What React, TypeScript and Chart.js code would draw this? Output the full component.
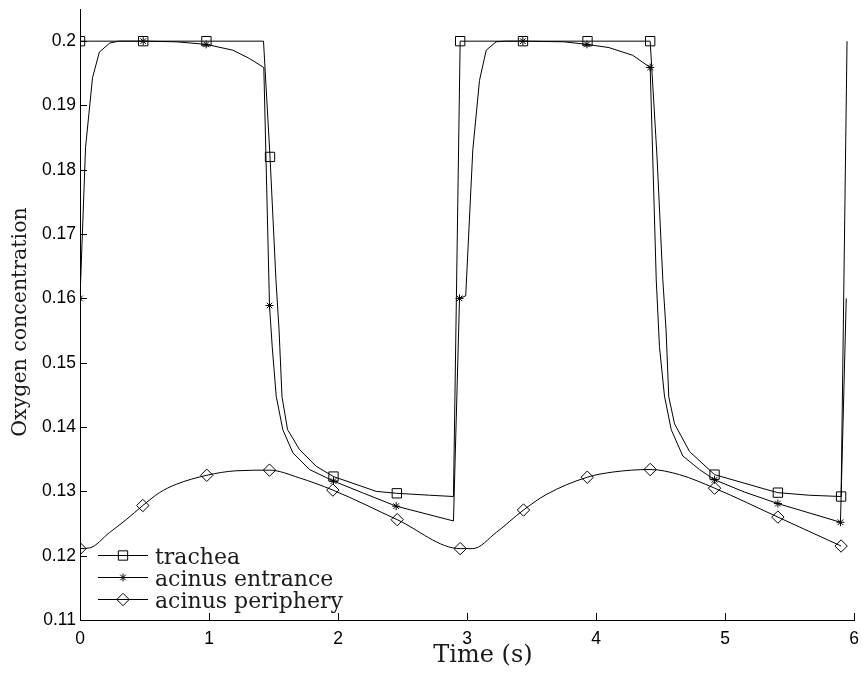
import React, { useEffect, useRef } from "react";
import { Chart, registerables } from "chart.js";
import { drawPoint } from "chart.js/helpers";

Chart.register(...registerables);

// ---------- data ----------
const xTicks = [0, 1, 2, 3, 4, 5, 6];
const yTicks = [0.11, 0.12, 0.13, 0.14, 0.15, 0.16, 0.17, 0.18, 0.19, 0.2];
const xLabel = "Time (s)";
const yLabel = "Oxygen concentration";
const seriesLabels = ["trachea", "acinus entrance", "acinus periphery"];

const tracheaT = [0, 0.49, 0.98, 1.4225, 1.473, 1.519, 1.543, 1.566, 1.609, 1.702, 1.831, 1.965, 2.296, 2.456, 2.71, 2.895, 2.947, 3.434, 3.934, 4.42, 4.473, 4.518, 4.543, 4.564, 4.609, 4.725, 4.919, 5.319, 5.41, 5.65, 5.9, 5.946];
const tracheaY = [0.2, 0.2, 0.2, 0.2, 0.182, 0.1629, 0.1551, 0.1447, 0.1396, 0.1365, 0.1339, 0.1323, 0.13, 0.1297, 0.1294, 0.1292, 0.2, 0.2, 0.2, 0.2, 0.182, 0.1629, 0.1551, 0.1447, 0.1405, 0.1362, 0.1326, 0.1303, 0.1298, 0.1294, 0.1292, 0.2];
const tracheaMark = [1, 1, 1, 0, 1, 0, 0, 0, 0, 0, 0, 1, 0, 1, 0, 0, 1, 1, 1, 1, 0, 0, 0, 0, 0, 0, 1, 0, 1, 0, 1, 0];

const entranceT = [0, 0.043, 0.097, 0.15, 0.23, 0.3, 0.49, 0.746, 0.978, 1.184, 1.314, 1.425, 1.469, 1.49, 1.521, 1.572, 1.65, 1.779, 1.965, 2.2, 2.451, 2.895, 2.942, 2.99, 3.045, 3.097, 3.149, 3.226, 3.3, 3.433, 3.75, 3.93, 4.1, 4.285, 4.42, 4.467, 4.492, 4.531, 4.583, 4.673, 4.802, 4.919, 5.15, 5.41, 5.895, 5.94];
const entranceY = [0.16, 0.1835, 0.1943, 0.1983, 0.1997, 0.2, 0.2, 0.1999, 0.1995, 0.1986, 0.1973, 0.1959, 0.1589, 0.1525, 0.1448, 0.1396, 0.136, 0.1334, 0.1316, 0.1297, 0.1277, 0.1254, 0.16, 0.1604, 0.1831, 0.1939, 0.1986, 0.1999, 0.2, 0.2, 0.1999, 0.1995, 0.199, 0.1978, 0.1959, 0.1629, 0.1525, 0.1448, 0.1396, 0.1355, 0.1334, 0.1318, 0.1299, 0.1281, 0.1252, 0.16];
const entranceMark = [1, 0, 0, 0, 0, 0, 1, 0, 1, 0, 0, 0, 1, 0, 0, 0, 0, 0, 1, 0, 1, 0, 1, 0, 0, 0, 0, 0, 0, 1, 0, 1, 0, 0, 1, 0, 0, 0, 0, 0, 0, 1, 0, 1, 1, 0];

const peripheryT = [0, 0.074, 0.229, 0.358, 0.487, 0.616, 0.746, 0.983, 1.21, 1.469, 1.7, 1.96, 2.459, 2.947, 3.045, 3.226, 3.438, 3.614, 3.932, 4.13, 4.42, 4.647, 4.919, 5.41, 5.9];
const peripheryY = [0.1211, 0.1212, 0.1236, 0.1256, 0.1278, 0.1298, 0.1311, 0.1325, 0.1332, 0.1333, 0.1321, 0.1302, 0.1256, 0.1211, 0.1211, 0.1236, 0.1271, 0.1295, 0.1322, 0.133, 0.1334, 0.1326, 0.1305, 0.126, 0.1215];
const peripheryMark = [1, 0, 0, 0, 1, 0, 0, 1, 0, 1, 0, 1, 1, 1, 0, 0, 1, 0, 1, 0, 1, 0, 1, 1, 1];

// ---------- helpers ----------
const pts = (t: number[], y: number[]) => t.map((x, i) => ({ x, y: y[i] }));
const SERIF = '"DejaVu Serif", serif';
const SANS = '"Liberation Sans", Arial, sans-serif';

const markerDefs = [
  { style: "rect", radius: 6.6, smooth: false },
  { style: "star", radius: 4, smooth: false },
  { style: "rectRot", radius: 6.2, smooth: true },
];

const inwardTicks = {
  id: "inwardTicks",
  afterDraw(chart: any) {
    const { ctx, chartArea } = chart;
    const xs = chart.scales.x;
    const ys = chart.scales.y;
    ctx.save();
    ctx.strokeStyle = "#000";
    ctx.lineWidth = 1;
    ctx.beginPath();
    xTicks.forEach((v) => {
      const px = Math.round(xs.getPixelForValue(v)) + 0.5;
      ctx.moveTo(px, chartArea.bottom);
      ctx.lineTo(px, chartArea.bottom - 7);
    });
    yTicks.forEach((v) => {
      const py = Math.round(ys.getPixelForValue(v)) + 0.5;
      ctx.moveTo(chartArea.left, py);
      ctx.lineTo(chartArea.left + 7, py);
    });
    ctx.stroke();
    ctx.restore();
  },
};

const legendAndTitles = {
  id: "legendAndTitles",
  afterDraw(chart: any) {
    const { ctx, chartArea } = chart;
    ctx.save();
    // legend
    chart.data.datasets.forEach((ds: any, i: number) => {
      const y = chartArea.bottom - 65 + 22 * i + 0.5;
      const x0 = chartArea.left + 18;
      ctx.strokeStyle = "#000";
      ctx.lineWidth = 1;
      ctx.beginPath();
      ctx.moveTo(x0, y);
      ctx.lineTo(x0 + 50, y);
      ctx.stroke();
      ctx.fillStyle = "rgba(0,0,0,0)";
      drawPoint(ctx, { pointStyle: markerDefs[i].style, radius: markerDefs[i].radius, rotation: 0, borderWidth: 1 } as any, x0 + 25, y);
      ctx.fillStyle = "#1a1a1a";
      ctx.font = `22px ${SERIF}`;
      ctx.textAlign = "left";
      ctx.textBaseline = "alphabetic";
      ctx.fillText(ds.label, x0 + 57, y + 8);
    });
    // axis titles
    ctx.fillStyle = "#1a1a1a";
    ctx.textAlign = "center";
    ctx.textBaseline = "alphabetic";
    ctx.font = `24px ${SERIF}`;
    ctx.fillText(xLabel, 483, 662);
    ctx.translate(26, 322);
    ctx.rotate(-Math.PI / 2);
    ctx.font = `20.5px ${SERIF}`;
    ctx.fillText(yLabel, 0, 0);
    ctx.restore();
  },
};

export default function App() {
  const ref = useRef<HTMLCanvasElement>(null);
  useEffect(() => {
    const series = [
      { t: tracheaT, y: tracheaY, m: tracheaMark },
      { t: entranceT, y: entranceY, m: entranceMark },
      { t: peripheryT, y: peripheryY, m: peripheryMark },
    ];
    const chart = new Chart(ref.current as HTMLCanvasElement, {
      type: "line",
      data: {
        datasets: series.map((s, i) => ({
          label: seriesLabels[i],
          data: pts(s.t, s.y),
          borderColor: "#000",
          borderWidth: 1,
          pointStyle: markerDefs[i].style as any,
          pointRadius: s.m.map((f) => (f ? markerDefs[i].radius : 0)),
          pointHoverRadius: s.m.map((f) => (f ? markerDefs[i].radius : 0)),
          pointBorderColor: "#000",
          pointBackgroundColor: "rgba(0,0,0,0)",
          pointBorderWidth: 1,
          fill: false,
          tension: 0,
          cubicInterpolationMode: markerDefs[i].smooth ? "monotone" : "default",
        })) as any,
      },
      options: {
        responsive: false,
        animation: false,
        devicePixelRatio: 1,
        events: [],
        layout: { padding: { top: 9, right: 8, left: 0, bottom: 0 } },
        plugins: { legend: { display: false }, tooltip: { enabled: false } },
        scales: {
          x: {
            type: "linear",
            min: 0,
            max: 6,
            afterBuildTicks: (s: any) => {
              s.ticks = xTicks.map((v) => ({ value: v }));
            },
            afterFit: (s: any) => {
              s.height = 53;
              s.paddingLeft = 0;
              s.paddingRight = 0;
              s.paddingTop = 0;
              s.paddingBottom = 0;
            },
            grid: { drawOnChartArea: false, drawTicks: false },
            border: { display: true, color: "#000", width: 1 },
            ticks: {
              color: "#000",
              font: { family: SANS, size: 17.5 },
              padding: 9,
              maxRotation: 0,
              autoSkip: false,
              callback: (v: any) => String(v),
            },
          },
          y: {
            type: "linear",
            min: 0.11,
            max: 0.205,
            afterBuildTicks: (s: any) => {
              s.ticks = yTicks.map((v) => ({ value: v }));
            },
            afterFit: (s: any) => {
              s.width = 80;
              s.paddingLeft = 0;
              s.paddingRight = 0;
              s.paddingTop = 0;
              s.paddingBottom = 0;
            },
            grid: { drawOnChartArea: false, drawTicks: false },
            border: { display: true, color: "#000", width: 1 },
            ticks: {
              color: "#000",
              font: { family: SANS, size: 17.5 },
              padding: 4,
              autoSkip: false,
              callback: (v: any) => String(Number(Number(v).toFixed(3))),
            },
          },
        },
      },
      plugins: [inwardTicks, legendAndTitles],
    });
    return () => chart.destroy();
  }, []);
  return (
    <div style={{ position: "absolute", left: 0, top: 0, width: 862, height: 673, background: "#fff" }}>
      <canvas ref={ref} width={862} height={673} style={{ display: "block", width: 862, height: 673 }} />
    </div>
  );
}
